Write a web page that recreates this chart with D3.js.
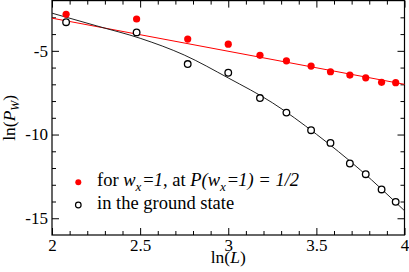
<!DOCTYPE html>
<html>
<head>
<meta charset="utf-8">
<script src="https://cdn.jsdelivr.net/npm/d3@7"></script>
<style>
  body { margin: 0; background: #fff; }
  svg { display: block; }
  text { font-family: "Liberation Serif", "Times New Roman", serif; }
</style>
</head>
<body>
<svg id="chart" width="409" height="272"></svg>
<script>
// ln(L) of the system sizes
var lnL = [2.08, 2.48, 2.77, 3.00, 3.18, 3.33, 3.47, 3.58, 3.69, 3.78, 3.87, 3.95];
// ln(P_W) for w_x = 1 at P(w_x=1) = 1/2 (filled red)
var lnPwx = [-2.82, -3.10, -4.30, -4.60, -5.27, -5.60, -5.91, -6.25, -6.45, -6.61, -6.88, -6.90];
// ln(P_W) in the ground state (open black)
var lnPground = [-3.29, -3.90, -5.79, -6.31, -7.82, -8.69, -9.74, -10.50, -11.73, -12.37, -13.28, -14.02];

// fitted lines
var fitRedX = [2.0, 4.0];
var fitRedY = [-3.05, -7.00];
var fitBlackX = [2.0, 2.25, 2.5, 2.75, 3.0, 3.25, 3.5, 3.75, 4.0];
var fitBlackY = [-2.75, -3.50, -4.25, -5.25, -6.62, -8.10, -9.98, -12.12, -14.55];

var xMajor = [2, 2.5, 3, 3.5, 4];
var xMinor = [2.1, 2.2, 2.3, 2.4, 2.6, 2.7, 2.8, 2.9, 3.1, 3.2, 3.3, 3.4, 3.6, 3.7, 3.8, 3.9];
var yMajor = [-5, -10, -15];
var yMinor = [-3, -4, -6, -7, -8, -9, -11, -12, -13, -14];

var svg = d3.select("#chart");
var plotL = 52, plotR = 404.5, plotT = 0.6, plotB = 235;

var x = d3.scaleLinear().domain([2, 4]).range([plotL, plotR]);
var y = d3.scaleLinear().domain([-16, -2]).range([plotB, plotT]);

// axes, ticks pointing inward
function tickStyle(g) {
  g.select(".domain").remove();
  g.selectAll("line").attr("stroke", "#000").attr("stroke-width", 1);
  g.selectAll("text").style("font-size", "17px").attr("fill", "#000");
}

svg.append("g").attr("transform", "translate(0," + plotB + ")")
  .call(d3.axisBottom(x).tickValues(xMajor).tickSize(-7).tickPadding(4)
    .tickFormat(function(d) { return String(d); }))
  .call(tickStyle);
svg.append("g").attr("transform", "translate(0," + plotB + ")")
  .call(d3.axisBottom(x).tickValues(xMinor).tickSize(-4).tickFormat(""))
  .call(tickStyle);
svg.append("g").attr("transform", "translate(0," + plotT + ")")
  .call(d3.axisTop(x).tickValues(xMajor).tickSize(-7).tickFormat(""))
  .call(tickStyle);
svg.append("g").attr("transform", "translate(0," + plotT + ")")
  .call(d3.axisTop(x).tickValues(xMinor).tickSize(-4).tickFormat(""))
  .call(tickStyle);

svg.append("g").attr("transform", "translate(" + plotL + ",0)")
  .call(d3.axisLeft(y).tickValues(yMajor).tickSize(-7).tickPadding(4)
    .tickFormat(function(d) { return String(d); }))
  .call(tickStyle);
svg.append("g").attr("transform", "translate(" + plotL + ",0)")
  .call(d3.axisLeft(y).tickValues(yMinor).tickSize(-4).tickFormat(""))
  .call(tickStyle);
svg.append("g").attr("transform", "translate(" + plotR + ",0)")
  .call(d3.axisRight(y).tickValues(yMajor).tickSize(-7).tickFormat(""))
  .call(tickStyle);
svg.append("g").attr("transform", "translate(" + plotR + ",0)")
  .call(d3.axisRight(y).tickValues(yMinor).tickSize(-4).tickFormat(""))
  .call(tickStyle);

// frame
svg.append("rect")
  .attr("x", plotL).attr("y", plotT)
  .attr("width", plotR - plotL).attr("height", plotB - plotT)
  .attr("fill", "none").attr("stroke", "#000").attr("stroke-width", 1.2);

// fit lines
var straight = d3.line()
  .x(function(d) { return x(d[0]); })
  .y(function(d) { return y(d[1]); });
var smooth = d3.line()
  .x(function(d) { return x(d[0]); })
  .y(function(d) { return y(d[1]); })
  .curve(d3.curveMonotoneX);

svg.append("path")
  .datum(d3.zip(fitRedX, fitRedY))
  .attr("d", straight)
  .attr("fill", "none").attr("stroke", "#ff0000").attr("stroke-width", 1);

svg.append("path")
  .datum(d3.zip(fitBlackX, fitBlackY))
  .attr("d", smooth)
  .attr("fill", "none").attr("stroke", "#222").attr("stroke-width", 1);

// points
svg.append("g").selectAll("circle")
  .data(d3.zip(lnL, lnPwx))
  .join("circle")
  .attr("cx", function(d) { return x(d[0]); })
  .attr("cy", function(d) { return y(d[1]); })
  .attr("r", 3.6)
  .attr("fill", "#ff0000");

svg.append("g").selectAll("circle")
  .data(d3.zip(lnL, lnPground))
  .join("circle")
  .attr("cx", function(d) { return x(d[0]); })
  .attr("cy", function(d) { return y(d[1]); })
  .attr("r", 3.3)
  .attr("fill", "#fff")
  .attr("stroke", "#000")
  .attr("stroke-width", 1.3);

// axis titles
var xt = svg.append("text")
  .attr("x", x(3)).attr("y", 263)
  .attr("text-anchor", "middle")
  .style("font-size", "17.5px");
xt.append("tspan").text("ln(");
xt.append("tspan").style("font-style", "italic").text("L");
xt.append("tspan").text(")");

var yt = svg.append("text")
  .attr("transform", "translate(15," + ((plotT + plotB) / 2) + ") rotate(-90)")
  .attr("text-anchor", "middle")
  .style("font-size", "17.5px");
yt.append("tspan").text("ln(");
yt.append("tspan").style("font-style", "italic").text("P");
yt.append("tspan").style("font-style", "italic").style("font-size", "12px").attr("dy", 4).text("W");
yt.append("tspan").attr("dy", -4).text(")");

// legend
var lg = svg.append("g");
lg.append("circle").attr("cx", 78.3).attr("cy", 182.3).attr("r", 3).attr("fill", "#ff0000");
lg.append("circle").attr("cx", 78.3).attr("cy", 205).attr("r", 2.8)
  .attr("fill", "#fff").attr("stroke", "#000").attr("stroke-width", 1.2);

var t1 = lg.append("text").attr("x", 97).attr("y", 186.3).style("font-size", "18.5px");
function seg(t, s, italic, sub) {
  var ts = t.append("tspan").text(s);
  if (italic) ts.style("font-style", "italic");
  if (sub) ts.style("font-size", "13px").attr("dy", sub);
  return ts;
}
seg(t1, "for ");
seg(t1, "w", true);
seg(t1, "x", true, 5);
seg(t1, "=").attr("dy", -5).attr("dx", 2);
seg(t1, "1", true);
seg(t1, ", at ");
seg(t1, "P", true);
seg(t1, "(", true);
seg(t1, "w", true);
seg(t1, "x", true, 5);
seg(t1, "=").attr("dy", -5).attr("dx", 2);
seg(t1, "1", true);
seg(t1, ") = ", true);
seg(t1, "1/2", true);

lg.append("text").attr("x", 97).attr("y", 208.7).style("font-size", "18.5px")
  .text("in the ground state");
</script>
</body>
</html>
